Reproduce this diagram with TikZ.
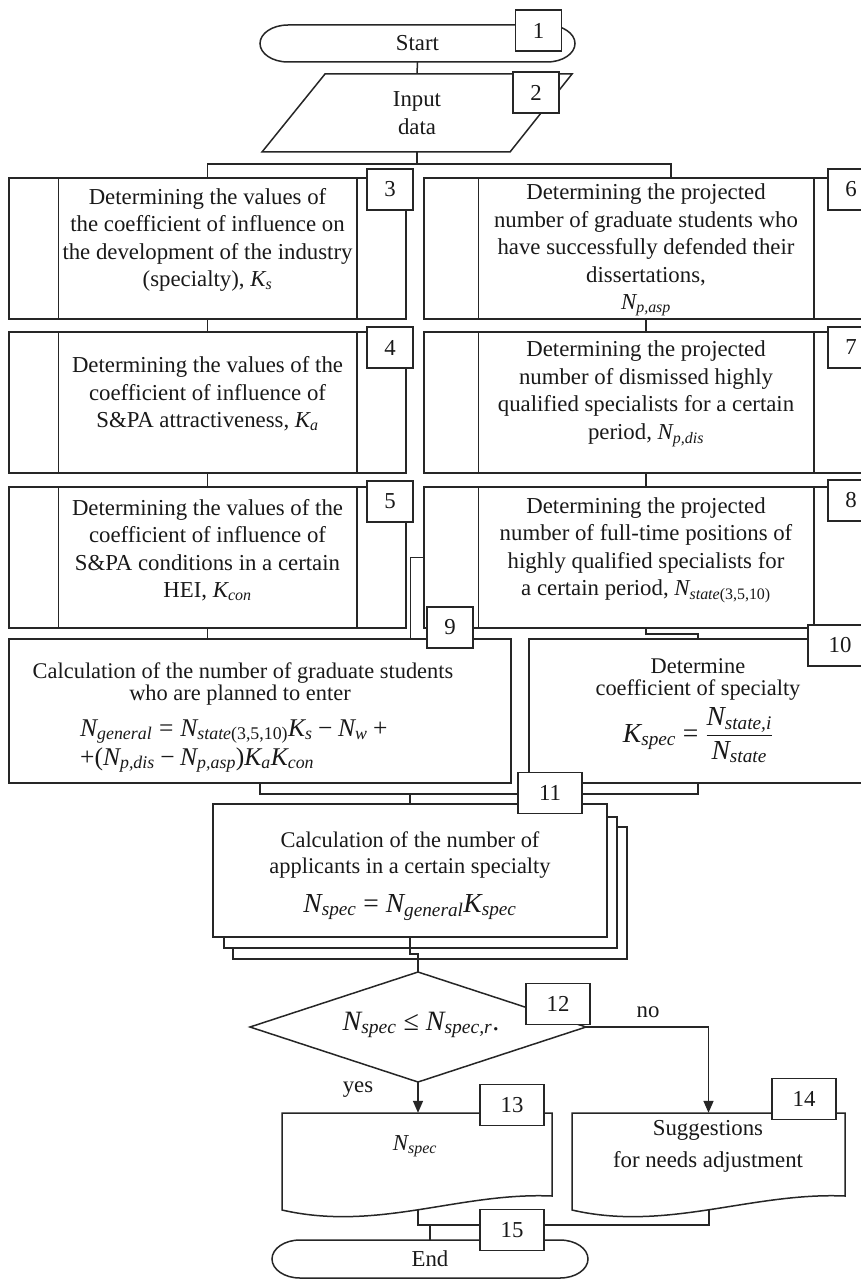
\documentclass[tikz,border=0pt]{standalone}
\usepackage{fontspec}
\usepackage{amsmath}
\setmainfont{Liberation Serif}
\usetikzlibrary{arrows.meta}
\newcommand{\bodyf}{\fontsize{22.8pt}{27.5pt}\selectfont}
\newcommand{\tightf}{\fontsize{22.4pt}{22pt}\selectfont}
\newcommand{\mfont}{\fontsize{25.5pt}{30pt}\selectfont}
\newcommand{\lfont}{\fontsize{27.5pt}{32pt}\selectfont}
\newcommand{\dfont}{\fontsize{28pt}{32pt}\selectfont}
\newcommand{\sbv}[2]{\textit{#1}_{\text{\itshape #2}}}
\newcommand{\sbu}[3]{\textit{#1}_{\text{\itshape #2\upshape #3}}}
\newcommand{\Meq}{\mathrel{\textup{=}}}
\newcommand{\Mmin}{\mathbin{\textup{−}}}
\newcommand{\Mplus}{\mathbin{\textup{+}}}
\newcommand{\Mle}{\mathrel{\textup{≤}}}
\begin{document}
\begin{tikzpicture}[x=1pt,y=-1pt,
  every node/.append style={text=black!90},
  ln/.style={line width=1.5pt, draw=black!85},
  arr/.style={ln, -{Triangle[length=12pt,width=10pt]}},
  lab/.style={ln, fill=white, inner sep=0pt, minimum width=46pt, minimum height=41pt, font=\bodyf},
  labw/.style={lab, minimum width=64pt},
  blk/.style={ln, fill=white, inner sep=0pt},
  ghost/.style={inner sep=0pt},
  txt/.style={align=center, font=\bodyf, inner sep=0pt},
  ttxt/.style={font=\tightf, inner sep=0pt, anchor=base},
  frm/.style={font=\mfont, inner sep=0pt, anchor=base}
]
\useasboundingbox (0,0) rectangle (861,1281);
\clip (0,0) rectangle (861,1281);
\fill[white] (0,0) rectangle (861,1281);

% ---- Start terminator
\draw[ln] (288,25) -- (547,25) .. controls (562.5,25) and (575,33.3) .. (575,43.5)
  .. controls (575,53.7) and (562.5,62) .. (547,62) -- (288,62)
  .. controls (272.5,62) and (260,53.7) .. (260,43.5)
  .. controls (260,33.3) and (272.5,25) .. (288,25) -- cycle;
\node[ghost, minimum width=315pt, minimum height=37pt, font=\bodyf] (start) at (417.5,43.5) {Start};

% ---- Input data
\draw[ln] (325,74) -- (572,74) -- (510,152) -- (262,152) -- cycle;
\node[ghost, minimum width=200pt, minimum height=78pt, align=center, font=\bodyf] (input) at (417,113) {Input\\data};

% ---- predefined process blocks
\node[blk, minimum width=397pt, minimum height=141pt] (b3) at (207.5,248.5) {};
\node[blk, minimum width=397pt, minimum height=141pt] (b4) at (207.5,402.5) {};
\node[blk, minimum width=397pt, minimum height=141pt] (b5) at (207.5,557.5) {};
\node[blk, minimum width=444pt, minimum height=141pt] (b6) at (646,248.5) {};
\node[blk, minimum width=444pt, minimum height=141pt] (b7) at (646,402.5) {};
\node[blk, minimum width=444pt, minimum height=141pt] (b8) at (646,557.5) {};
\foreach \b/\o in {b3/50,b4/50,b5/50,b6/55,b7/55,b8/55}{
  \draw[ln] ([xshift=\o pt]\b.north west) -- ([xshift=\o pt]\b.south west);
  \draw[ln] ([xshift=-\o pt]\b.north east) -- ([xshift=-\o pt]\b.south east);
}
\node[txt] (t3) at (207.5,240) {Determining the values of\\the coefficient of influence on\\the development of the industry\\(specialty), $\sbv{K}{s}$};
\node[txt] (t4) at (207.5,394) {Determining the values of the\\coefficient of influence of\\S\&PA attractiveness, $\sbv{K}{a}$};
\node[txt] (t5) at (207.5,550) {Determining the values of the\\coefficient of influence of\\S\&PA conditions in a certain\\HEI, $\sbv{K}{con}$};
\node[txt] (t6) at (646,250) {Determining the projected\\number of graduate students who\\have successfully defended their\\dissertations,\\$\sbv{N}{p,asp}$};
\node[txt] (t7) at (646,394) {Determining the projected\\number of dismissed highly\\qualified specialists for a certain\\period, $\sbv{N}{p,dis}$};
\node[txt] (t8) at (646,550) {Determining the projected\\number of full-time positions of\\highly qualified specialists for\\a certain period, $\sbu{N}{state}{(3,5,10)}$};

% ---- block 9 and 10
\node[blk, minimum width=502pt, minimum height=144pt] (b9) at (260,711) {};
\node[blk, minimum width=338pt, minimum height=144pt] (b10) at (698,711) {};
\node[ttxt] (t9a) at (243,678) {Calculation of the number of graduate students};
\node[ttxt] (t9b) at (240,700) {who are planned to enter};
\node[frm, anchor=base west] (f9a) at (80,736) {$\sbv{N}{general} \Meq \sbu{N}{state}{(3,5,10)}\sbv{K}{s} \Mmin \sbv{N}{w} \Mplus{}$};
\node[frm, anchor=base west] (f9b) at (80,765) {$\textup{+(}\sbv{N}{p,dis} \Mmin \sbv{N}{p,asp}\textup{)}\sbv{K}{a}\sbv{K}{con}$};
\node[ttxt] (t10a) at (698,673) {Determine};
\node[ttxt] (t10b) at (698,695) {coefficient of specialty};
\node[frm, font=\lfont] (f10) at (698,742) {$\sbv{K}{spec} \Meq \dfrac{\sbv{N}{state,i}}{\sbv{N}{state}}$};

% ---- block 11 (multi-document)
\draw[ln, fill=white] (233,827) rectangle (627,959);
\draw[ln, fill=white] (224,817) rectangle (617,948);
\node[blk, minimum width=394pt, minimum height=133pt] (b11) at (410,870.5) {};
\node[ttxt] (t11a) at (410,847) {Calculation of the number of};
\node[ttxt] (t11b) at (410,873) {applicants in a certain specialty};
\node[frm, font=\lfont] (f11) at (410,912) {$\sbv{N}{spec} \Meq \sbv{N}{general}\sbv{K}{spec}$};

% ---- decision
\draw[ln] (418,972) -- (586,1027) -- (418,1082) -- (250,1027) -- cycle;
\node[ghost, minimum width=336pt, minimum height=110pt] (d12) at (418,1027) {};
\node[frm, font=\dfont] (f12) at (421,1030) {$\sbv{N}{spec} \Mle \sbv{N}{spec,r}\textup{.}$};

% ---- documents
\draw[ln, fill=white] (282,1113) -- (552,1113) -- (552,1196) .. controls (459,1192) and (378,1232) .. (282,1210) -- cycle;
\draw[ln, fill=white] (572,1113) -- (845,1113) -- (845,1196) .. controls (751,1192) and (667,1232) .. (572,1210) -- cycle;
\node[ghost, minimum width=270pt, minimum height=83pt] (b13) at (417,1154.5) {};
\node[ghost, minimum width=273pt, minimum height=83pt] (b14) at (708.5,1154.5) {};
\coordinate (w13) at (418,1210);
\coordinate (w14) at (709,1210);
\node[font=\bodyf, inner sep=0pt] (t13) at (415,1146) {$\sbv{N}{spec}$};
\node[font=\bodyf, inner sep=0pt, anchor=base] (t14a) at (708,1135) {Suggestions};
\node[font=\bodyf, inner sep=0pt, anchor=base] (t14b) at (708,1167) {for needs adjustment};

% ---- End terminator
\draw[ln] (300,1240) -- (560,1240) .. controls (575.5,1240) and (588,1248.5) .. (588,1259)
  .. controls (588,1269.5) and (575.5,1278) .. (560,1278) -- (300,1278)
  .. controls (284.5,1278) and (272,1269.5) .. (272,1259)
  .. controls (272,1248.5) and (284.5,1240) .. (300,1240) -- cycle;
\node[ghost, minimum width=316pt, minimum height=38pt, font=\bodyf] (endn) at (430,1259) {End};

% ---- yes / no
\node[font=\bodyf, inner sep=0pt] (yes) at (358,1090) {yes};
\node[font=\bodyf, inner sep=0pt] (no) at (648,1012) {no};

% ---- connectors
\draw[ln] (start.south) -- (input.north);
\draw[ln] (input.south) -- ++(0,12) coordinate (s1);
\coordinate (c6) at ([xshift=25pt]b6.north);
\draw[ln] (b3.north) |- (s1) -| (c6);
\draw[ln] (b3.south) -- (b4.north);
\draw[ln] (b4.south) -- (b5.north);
\draw[ln] (b5.south) -- (b5.south |- b9.north);
\draw[ln] (b6.south) -- (b7.north);
\draw[ln] (b7.south) -- (b8.north);
\draw[ln] (b8.west) -- ++(-13,0) coordinate (k1) -- (k1 |- b9.north);
\draw[ln] (b8.south) -- ++(0,5) -| (b10.north);
\draw[ln] (b9.south) -- ++(0,10) -| (b11.north);
\draw[ln] (b10.south) -- ++(0,10) -| (b11.north);
\draw[ln] (b11.south) -- ++(0,16) -| (d12.north);
\draw[arr] (d12.south) -- (d12.south |- b13.north);
\draw[arr] (d12.east) -| (b14.north);
\draw[ln] (w13) -- ++(0,15) coordinate (m1) -| (w14);
\draw[ln] (m1 -| endn.north) -- (endn.north);

% ---- number labels
\node[lab] (l1) at (538.5,30.5) {1};
\node[lab] (l2) at (536,92.5) {2};
\node[lab] (l3) at (390,189.5) {3};
\node[lab] (l4) at (390,347.5) {4};
\node[lab] (l5) at (390,501.5) {5};
\node[lab] (l6) at (851,189.5) {6};
\node[lab] (l7) at (851,347.5) {7};
\node[lab] (l8) at (851,500.5) {8};
\node[lab] (l9) at (450,627.5) {9};
\node[labw] (l10) at (840,645.5) {10};
\node[labw] (l11) at (550,793) {11};
\node[labw] (l12) at (558,1004) {12};
\node[labw] (l13) at (512,1105) {13};
\node[labw] (l14) at (804,1099) {14};
\node[labw] (l15) at (512,1230) {15};
\end{tikzpicture}
\end{document}
